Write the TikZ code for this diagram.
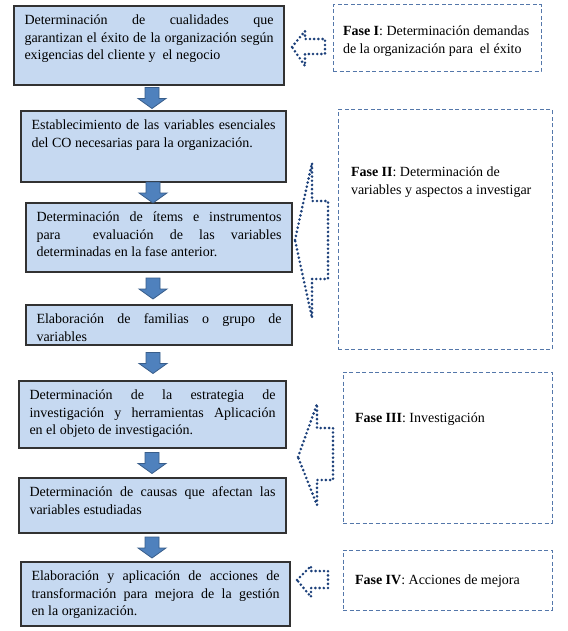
\documentclass[tikz,border=0pt]{standalone}
\usepackage{fontspec}
\setmainfont{Liberation Serif}
\usetikzlibrary{calc}
\definecolor{boxfill}{RGB}{198,217,241}
\definecolor{boxline}{RGB}{50,50,50}
\definecolor{arrfill}{RGB}{79,129,189}
\definecolor{arrline}{RGB}{56,93,138}
\definecolor{dashline}{RGB}{84,119,170}
\definecolor{dotline}{RGB}{28,64,122}
\hbadness=10000
\hfuzz=3pt
\tikzset{
  lbox/.style={draw=boxline, fill=boxfill, line width=1.3pt, inner xsep=10.5pt, inner ysep=0pt,
    font=\fontsize{14}{17.5}\selectfont},
  fasebox/.style={draw=dashline, line width=1pt, dash pattern=on 4pt off 2.5pt, inner sep=0pt,
    font=\fontsize{14}{17.5}\selectfont},
  blk/.style={fill=arrfill, draw=arrline, line width=0.8pt},
  dotarrow/.style={draw=dotline, line width=2.9pt, dash pattern=on 0pt off 4.2pt, line cap=round, line join=round},
}
% name, x1, y1, x2, y2, text
\newcommand\lbox[6]{%
  \node[lbox] (#1) at ({(#2+#4)/2},{(#3+#5)/2})
  {\parbox[c][\dimexpr #5pt-#3pt\relax][t]{\dimexpr #4pt-#2pt-21pt\relax}{\vspace*{6.5pt}\strut #6}};
}
% name, x1, y1, x2, y2, left pad, top pad, text
\newcommand\phbox[8]{%
  \node[fasebox, inner xsep=#6pt] (#1) at ({(#2+#4)/2},{(#3+#5)/2})
  {\parbox[c][\dimexpr #5pt-#3pt\relax][t]{\dimexpr #4pt-#2pt-#6pt-#6pt\relax}{\raggedright\vspace*{#7pt}\strut #8}};
}
\newcommand\blkarrow[3]{%
  \path ($(#1.south)!0.5!(#2.north)$) coordinate (m#1);
  \filldraw[blk] let \p1=(m#1) in
    ({#3pt-7pt},{\y1+10.5pt}) -- ({#3pt+7pt},{\y1+10.5pt}) -- ({#3pt+7pt},{\y1-0.5pt}) --
    ({#3pt+14pt},{\y1-0.5pt}) -- ({#3pt},{\y1-10.5pt}) -- ({#3pt-14pt},{\y1-0.5pt}) --
    ({#3pt-7pt},{\y1-0.5pt}) -- cycle;
}
\begin{document}
\begin{tikzpicture}[x=1pt,y=-1pt]
\useasboundingbox (0,0) rectangle (567,631);
\fill[white] (0,0) rectangle (567,631);

\lbox{b1}{14}{6}{284}{85}{Determinación de cualidades que\linebreak garantizan el éxito de la organización según\linebreak exigencias del cliente y\ \ el negocio}
\lbox{b2}{21}{111}{286}{182}{Establecimiento de las variables esenciales\linebreak del CO necesarias para la organización.}
\lbox{b3}{26}{203}{292}{272}{Determinación de ítems e instrumentos\linebreak para\ \ evaluación de las variables\linebreak determinadas en la fase anterior.}
\lbox{b4}{26}{305}{292}{345}{Elaboración de familias o grupo de\linebreak variables}
\lbox{b5}{19}{381}{286}{448}{Determinación de la estrategia de\linebreak investigación y herramientas Aplicación\linebreak en el objeto de investigación.}
\lbox{b6}{19}{478}{286}{533}{Determinación de causas que afectan las\linebreak variables estudiadas}
\lbox{b7}{21}{562}{290}{626}{Elaboración y aplicación de acciones de\linebreak transformación para mejora de la gestión\linebreak en la organización.}

\blkarrow{b1}{b2}{152}
\blkarrow{b2}{b3}{153}
\blkarrow{b3}{b4}{153}
\blkarrow{b4}{b5}{153}
\blkarrow{b5}{b6}{152}
\blkarrow{b6}{b7}{152}

\phbox{f1}{333}{5}{541}{72}{10}{18.5}{\textbf{Fase I}: Determinación demandas\\de la organización para\ \ el éxito}
\phbox{f2}{338}{110}{552}{349}{13}{54.5}{\textbf{Fase II}: Determinación de\\variables y aspectos a investigar}
\phbox{f3}{343}{372}{552}{523}{12}{38}{\textbf{Fase III}: Investigación}
\phbox{f4}{343}{550}{552}{610}{12}{22}{\textbf{Fase IV}: Acciones de mejora}

\draw[dotarrow] (292,47) -- (305,31) -- (305,39) -- (325,39) -- (325,54) -- (305,54) -- (305,66) -- cycle;
\draw[dotarrow] (295,240) -- (312,163) -- (312,201) -- (328,201) -- (328,279) -- (312,279) -- (312,318) -- cycle;
\draw[dotarrow] (298,457) -- (317,404) -- (317,428) -- (333,428) -- (333,480) -- (317,480) -- (317,505) -- cycle;
\draw[dotarrow] (297,580) -- (311,566) -- (311,571) -- (328,571) -- (328,588) -- (311,588) -- (311,597) -- cycle;
\end{tikzpicture}
\end{document}
